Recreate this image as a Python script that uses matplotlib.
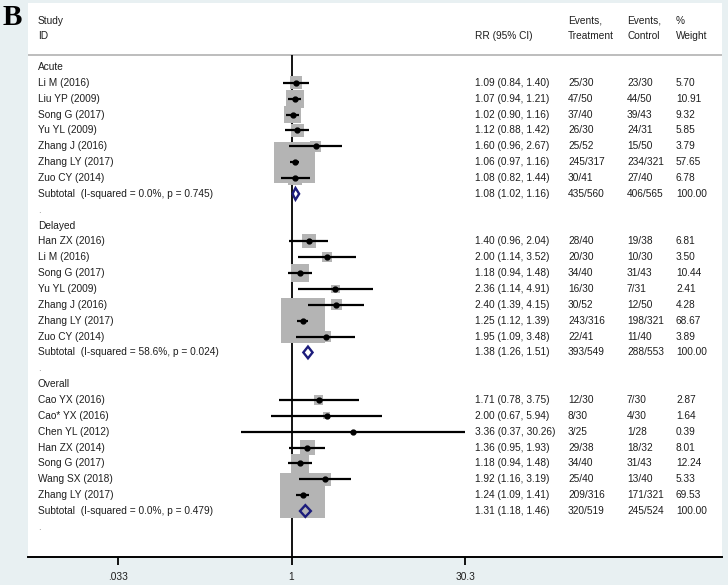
import numpy as np
import matplotlib.pyplot as plt
import matplotlib.transforms as mtransforms
from matplotlib.patches import Polygon

plt.rcParams['font.family'] = ['Liberation Sans', 'DejaVu Sans']

### donnees

group_names = ['Acute', 'Delayed', 'Overall']

acute_study = ['Li M (2016)', 'Liu YP (2009)', 'Song G (2017)', 'Yu YL (2009)',
               'Zhang J (2016)', 'Zhang LY (2017)', 'Zuo CY (2014)']
acute_rr = [1.09, 1.07, 1.02, 1.12, 1.60, 1.06, 1.08]
acute_lo = [0.84, 0.94, 0.90, 0.88, 0.96, 0.97, 0.82]
acute_hi = [1.40, 1.21, 1.16, 1.42, 2.67, 1.16, 1.44]
acute_trt = ['25/30', '47/50', '37/40', '26/30', '25/52', '245/317', '30/41']
acute_ctl = ['23/30', '44/50', '39/43', '24/31', '15/50', '234/321', '27/40']
acute_wt = [5.70, 10.91, 9.32, 5.85, 3.79, 57.65, 6.78]

delayed_study = ['Han ZX (2016)', 'Li M (2016)', 'Song G (2017)', 'Yu YL (2009)',
                 'Zhang J (2016)', 'Zhang LY (2017)', 'Zuo CY (2014)']
delayed_rr = [1.40, 2.00, 1.18, 2.36, 2.40, 1.25, 1.95]
delayed_lo = [0.96, 1.14, 0.94, 1.14, 1.39, 1.12, 1.09]
delayed_hi = [2.04, 3.52, 1.48, 4.91, 4.15, 1.39, 3.48]
delayed_trt = ['28/40', '20/30', '34/40', '16/30', '30/52', '243/316', '22/41']
delayed_ctl = ['19/38', '10/30', '31/43', '7/31', '12/50', '198/321', '11/40']
delayed_wt = [6.81, 3.50, 10.44, 2.41, 4.28, 68.67, 3.89]

overall_study = ['Cao YX (2016)', 'Cao* YX (2016)', 'Chen YL (2012)', 'Han ZX (2014)',
                 'Song G (2017)', 'Wang SX (2018)', 'Zhang LY (2017)']
overall_rr = [1.71, 2.00, 3.36, 1.36, 1.18, 1.92, 1.24]
overall_lo = [0.78, 0.67, 0.37, 0.95, 0.94, 1.16, 1.09]
overall_hi = [3.75, 5.94, 30.26, 1.93, 1.48, 3.19, 1.41]
overall_trt = ['12/30', '8/30', '3/25', '29/38', '34/40', '25/40', '209/316']
overall_ctl = ['7/30', '4/30', '1/28', '18/32', '31/43', '13/40', '171/321']
overall_wt = [2.87, 1.64, 0.39, 8.01, 12.24, 5.33, 69.53]

sub_label = ['Subtotal  (I-squared = 0.0%, p = 0.745)',
             'Subtotal  (I-squared = 58.6%, p = 0.024)',
             'Subtotal  (I-squared = 0.0%, p = 0.479)']
sub_rr = [1.08, 1.38, 1.31]
sub_lo = [1.02, 1.26, 1.18]
sub_hi = [1.16, 1.51, 1.46]
sub_trt = ['435/560', '393/549', '320/519']
sub_ctl = ['406/565', '288/553', '245/524']

tick_vals = [0.033, 1, 30.3]
tick_labels = ['.033', '1', '30.3']

groups = [
    (acute_study, acute_rr, acute_lo, acute_hi, acute_trt, acute_ctl, acute_wt),
    (delayed_study, delayed_rr, delayed_lo, delayed_hi, delayed_trt, delayed_ctl, delayed_wt),
    (overall_study, overall_rr, overall_lo, overall_hi, overall_trt, overall_ctl, overall_wt),
]

### figure

W, H = 728, 585
fig = plt.figure(figsize=(W / 100, H / 100), dpi=100, facecolor='#e8f0f2')
ax = fig.add_axes([28 / W, 28 / H, 694 / W, 554 / H])
ax.set_facecolor('white')
ax.set_xscale('log')
ax.set_xlim(10 ** -2.246, 10 ** 3.668)
ax.set_ylim(30.9, -4.035)

trans = mtransforms.blended_transform_factory(fig.transFigure, ax.transData)
fs = 7.3
tcol = '#1e1e1e'
x_study, x_rr, x_trt, x_ctl, x_wt = 38 / W, 475 / W, 568 / W, 627 / W, 676 / W


def txt(x, y, s, **kw):
    ax.text(x, y, s, transform=trans, fontsize=fs, color=tcol, va='center', ha='left', **kw)


# en-tete
txt(x_study, -2.92, 'Study')
txt(x_study, -1.95, 'ID')
txt(x_rr, -1.95, 'RR (95% CI)')
txt(x_trt, -2.92, 'Events,')
txt(x_trt, -1.95, 'Treatment')
txt(x_ctl, -2.92, 'Events,')
txt(x_ctl, -1.95, 'Control')
txt(x_wt, -2.92, '%')
txt(x_wt, -1.95, 'Weight')
ax.axhline(-0.76, color='#bdbdbd', lw=1.4, zorder=1)
ax.vlines(1, -0.76, 30.9, color='black', lw=1.3, zorder=1)

row = 0
for g, (study, rr, lo, hi, trt, ctl, wt) in enumerate(groups):
    txt(x_study, row, group_names[g])
    row += 1
    ys = np.arange(row, row + len(study))
    ax.scatter(rr, ys, s=np.array(wt) * 15, marker='s', color='#b4b4b4', linewidths=0, zorder=2)
    ax.hlines(ys, lo, hi, color='black', lw=1.6, zorder=3)
    ax.plot(rr, ys, 'o', ms=3.5, color='black', zorder=4)
    for i in range(len(study)):
        y = ys[i]
        txt(x_study, y, study[i])
        txt(x_rr, y, '%.2f (%.2f, %.2f)' % (rr[i], lo[i], hi[i]))
        txt(x_trt, y, trt[i])
        txt(x_ctl, y, ctl[i])
        txt(x_wt, y, '%.2f' % wt[i])
    row += len(study)
    # sous-total
    d = Polygon([(sub_lo[g], row), (sub_rr[g], row - 0.37), (sub_hi[g], row), (sub_rr[g], row + 0.37)],
                closed=True, fill=False, edgecolor='#1c1c7c', lw=1.7, zorder=5)
    ax.add_patch(d)
    txt(x_study, row, sub_label[g])
    txt(x_rr, row, '%.2f (%.2f, %.2f)' % (sub_rr[g], sub_lo[g], sub_hi[g]))
    txt(x_trt, row, sub_trt[g])
    txt(x_ctl, row, sub_ctl[g])
    txt(x_wt, row, '100.00')
    row += 1
    ax.text(x_study, row, '.', transform=trans, fontsize=fs, color='#8a8a8a', va='center', ha='left')
    row += 1

# axe x
for s in ['top', 'left', 'right']:
    ax.spines[s].set_visible(False)
ax.spines['bottom'].set_linewidth(1.4)
ax.set_xticks(tick_vals)
ax.set_xticklabels(tick_labels)
ax.minorticks_off()
ax.set_yticks([])
ax.tick_params(axis='x', length=6, width=1.3, labelsize=fs, labelcolor=tcol, pad=5)

fig.text(3 / W, 1 - 4 / H, 'B', fontsize=21, fontweight='bold', family='Liberation Serif',
         va='top', ha='left', color='black')

plt.savefig('out.png', dpi=100, facecolor=fig.get_facecolor())
